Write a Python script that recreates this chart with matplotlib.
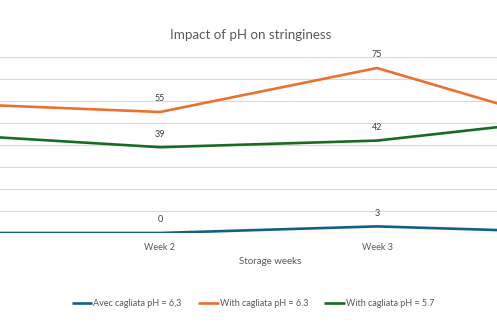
import matplotlib.pyplot as plt

weeks = ["Week 1", "Week 2", "Week 3", "Week 4"]
avec_63 = [0, 0, 3, 0]
with_63 = [59, 55, 75, 46]
with_57 = [45, 39, 42, 53]
series_names = ["Avec cagliata pH = 6,3", "With cagliata pH = 6.3", "With cagliata pH = 5.7"]
colors = ["#156082", "#E97132", "#196B24"]

plt.rcParams["font.family"] = ["Lato", "DejaVu Sans"]

fig = plt.figure(figsize=(4.97, 3.33), dpi=100)
# the reference is a crop of a wider chart: plot area runs off both edges
ax = fig.add_axes([0, 100 / 333, 1, 176 / 333])

x = list(range(len(weeks)))
xmin, xmax = 1 - 160 / 217, 2 + 120 / 217

for vals, name, c in zip([avec_63, with_63, with_57], series_names, colors):
    ax.plot(x, vals, color=c, lw=1.9, label=name, solid_capstyle="butt", zorder=3)
    for xi, v in zip(x, vals):
        if xmin < xi < xmax:  # labels of cropped points are not visible
            ax.annotate(str(v), (xi, v), xytext=(0, 9.5), textcoords="offset points",
                        ha="center", va="center", fontsize=6.5, color="#404040")

ax.set_yticks(range(0, 81, 10))
ax.set_yticklabels([])
vis = [i for i in x if xmin < i < xmax]
ax.set_xticks(vis)
ax.set_xticklabels([weeks[i] for i in vis], fontsize=6.5, color="#595959")
ax.set_xlim(xmin, xmax)
ax.set_ylim(0, 80)
ax.tick_params(axis="both", length=0, pad=7)
ax.grid(axis="y", color="#D9D9D9", lw=0.8, zorder=0)
for s in ax.spines.values():
    s.set_visible(False)
ax.axhline(0, color="#D9D9D9", lw=0.8, zorder=1)

fig.text(251 / 497, 1 - 35 / 333, "Impact of pH on stringiness", ha="center", va="center",
         fontsize=9.6, color="#595959")
fig.text(270 / 497, 1 - 261 / 333, "Storage weeks", ha="center", va="center",
         fontsize=7, color="#595959")

leg = fig.legend(loc="center", bbox_to_anchor=(253 / 497, 1 - 304 / 333), ncol=3,
                 frameon=False, fontsize=6.5, handlelength=2.3, handletextpad=0.1,
                 columnspacing=1.8)
for t in leg.get_texts():
    t.set_color("#595959")

fig.savefig("out.png", dpi=100)
